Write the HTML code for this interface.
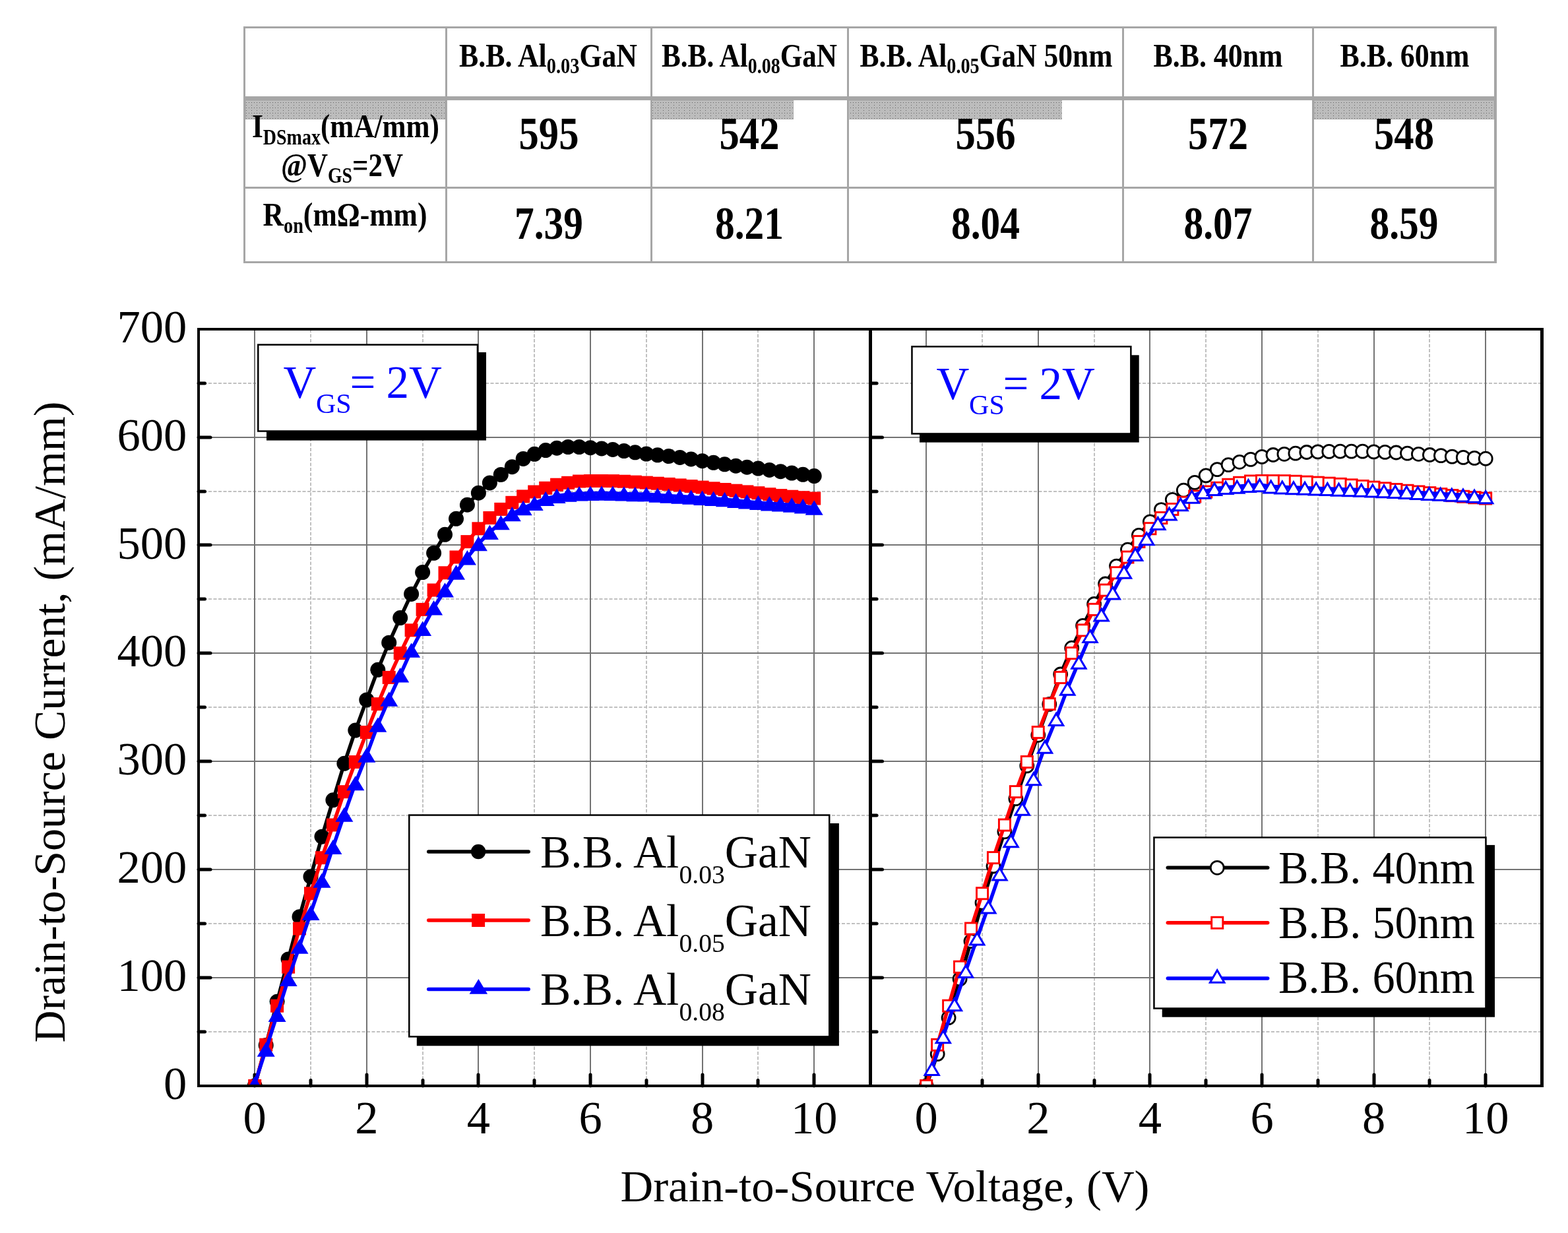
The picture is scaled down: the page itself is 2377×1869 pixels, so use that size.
<!DOCTYPE html>
<html><head><meta charset="utf-8"><title>IDS-VDS characteristics</title>
<style>html,body{margin:0;padding:0;background:#fff;}svg{display:block;}</style>
</head><body>
<svg width="2377" height="1869" viewBox="0 0 2377 1869">
<defs>
<pattern id="dots" x="0" y="0" width="8" height="8" patternUnits="userSpaceOnUse">
<rect width="8" height="8" fill="#a6a6a6"/>
<rect x="1" y="1" width="1" height="1" fill="#fff"/><rect x="3" y="1" width="1" height="1" fill="#fff"/><rect x="5" y="1" width="1" height="1" fill="#fff"/><rect x="7" y="1" width="1" height="1" fill="#fff"/><rect x="3" y="3" width="1" height="1" fill="#fff"/><rect x="7" y="3" width="1" height="1" fill="#fff"/><rect x="1" y="5" width="1" height="1" fill="#fff"/><rect x="3" y="5" width="1" height="1" fill="#fff"/><rect x="5" y="5" width="1" height="1" fill="#fff"/><rect x="7" y="5" width="1" height="1" fill="#fff"/><rect x="1" y="7" width="1" height="1" fill="#fff"/><rect x="3" y="7" width="1" height="1" fill="#fff"/><rect x="7" y="7" width="1" height="1" fill="#fff"/>
</pattern>
<clipPath id="clipL"><rect x="301" y="499" width="1018" height="1147"/></clipPath>
<clipPath id="clipR"><rect x="1319.5" y="499" width="1018" height="1147"/></clipPath>
</defs>
<rect width="2377" height="1869" fill="#fff"/>
<rect x="372" y="152" width="303" height="29" fill="url(#dots)"/>
<rect x="988" y="152" width="215" height="29" fill="url(#dots)"/>
<rect x="1287" y="152" width="323" height="29" fill="url(#dots)"/>
<rect x="1991" y="152" width="274" height="29" fill="url(#dots)"/>
<rect x="369" y="40" width="1900" height="3" fill="#a6a6a6"/>
<rect x="369" y="396" width="1900" height="3" fill="#a6a6a6"/>
<rect x="369" y="40" width="3" height="359" fill="#a6a6a6"/>
<rect x="2265" y="40" width="4" height="359" fill="#a6a6a6"/>
<rect x="369" y="146" width="1900" height="6" fill="#a6a6a6"/>
<rect x="369" y="283" width="1900" height="3" fill="#a6a6a6"/>
<rect x="675" y="40" width="3" height="359" fill="#a6a6a6"/>
<rect x="986" y="40" width="3" height="359" fill="#a6a6a6"/>
<rect x="1284" y="40" width="3" height="359" fill="#a6a6a6"/>
<rect x="1701" y="40" width="3" height="359" fill="#a6a6a6"/>
<rect x="1989" y="40" width="3" height="359" fill="#a6a6a6"/>
<text x="831" y="100.5" text-anchor="middle" font-size="51" font-family="Liberation Serif, serif" font-weight="bold" textLength="270" lengthAdjust="spacingAndGlyphs" >B.B. Al<tspan font-size="33" dy="10">0.03</tspan><tspan dy="-10">GaN</tspan></text>
<text x="1136" y="100.5" text-anchor="middle" font-size="51" font-family="Liberation Serif, serif" font-weight="bold" textLength="266" lengthAdjust="spacingAndGlyphs" >B.B. Al<tspan font-size="33" dy="10">0.08</tspan><tspan dy="-10">GaN</tspan></text>
<text x="1495" y="100.5" text-anchor="middle" font-size="51" font-family="Liberation Serif, serif" font-weight="bold" textLength="383" lengthAdjust="spacingAndGlyphs" >B.B. Al<tspan font-size="33" dy="10">0.05</tspan><tspan dy="-10">GaN 50nm</tspan></text>
<text x="1846.5" y="100.5" text-anchor="middle" font-size="51" font-family="Liberation Serif, serif" font-weight="bold" textLength="196" lengthAdjust="spacingAndGlyphs" >B.B. 40nm</text>
<text x="2129.5" y="100.5" text-anchor="middle" font-size="51" font-family="Liberation Serif, serif" font-weight="bold" textLength="196" lengthAdjust="spacingAndGlyphs" >B.B. 60nm</text>
<text x="524" y="207.5" text-anchor="middle" font-size="51" font-family="Liberation Serif, serif" font-weight="bold" textLength="284" lengthAdjust="spacingAndGlyphs" >I<tspan font-size="33" dy="11">DSmax</tspan><tspan dy="-11">(mA/mm)</tspan></text>
<text x="518.5" y="266.5" text-anchor="middle" font-size="51" font-family="Liberation Serif, serif" font-weight="bold" textLength="185" lengthAdjust="spacingAndGlyphs" >@V<tspan font-size="33" dy="10">GS</tspan><tspan dy="-10">=2V</tspan></text>
<text x="523" y="341.5" text-anchor="middle" font-size="51" font-family="Liberation Serif, serif" font-weight="bold" textLength="249" lengthAdjust="spacingAndGlyphs" >R<tspan font-size="33" dy="11">on</tspan><tspan dy="-11">(m&#937;-mm)</tspan></text>
<text x="832" y="226" text-anchor="middle" font-size="70" font-family="Liberation Serif, serif" font-weight="bold" textLength="91" lengthAdjust="spacingAndGlyphs" >595</text>
<text x="832" y="362" text-anchor="middle" font-size="70" font-family="Liberation Serif, serif" font-weight="bold" textLength="104" lengthAdjust="spacingAndGlyphs" >7.39</text>
<text x="1136" y="226" text-anchor="middle" font-size="70" font-family="Liberation Serif, serif" font-weight="bold" textLength="91" lengthAdjust="spacingAndGlyphs" >542</text>
<text x="1136" y="362" text-anchor="middle" font-size="70" font-family="Liberation Serif, serif" font-weight="bold" textLength="104" lengthAdjust="spacingAndGlyphs" >8.21</text>
<text x="1494" y="226" text-anchor="middle" font-size="70" font-family="Liberation Serif, serif" font-weight="bold" textLength="91" lengthAdjust="spacingAndGlyphs" >556</text>
<text x="1494" y="362" text-anchor="middle" font-size="70" font-family="Liberation Serif, serif" font-weight="bold" textLength="104" lengthAdjust="spacingAndGlyphs" >8.04</text>
<text x="1846.5" y="226" text-anchor="middle" font-size="70" font-family="Liberation Serif, serif" font-weight="bold" textLength="91" lengthAdjust="spacingAndGlyphs" >572</text>
<text x="1846.5" y="362" text-anchor="middle" font-size="70" font-family="Liberation Serif, serif" font-weight="bold" textLength="104" lengthAdjust="spacingAndGlyphs" >8.07</text>
<text x="2128.5" y="226" text-anchor="middle" font-size="70" font-family="Liberation Serif, serif" font-weight="bold" textLength="91" lengthAdjust="spacingAndGlyphs" >548</text>
<text x="2128.5" y="362" text-anchor="middle" font-size="70" font-family="Liberation Serif, serif" font-weight="bold" textLength="104" lengthAdjust="spacingAndGlyphs" >8.59</text>
<line x1="471.00" y1="499.00" x2="471.00" y2="1646.00" stroke="#c0c0c0" stroke-width="2" stroke-dasharray="5,2.5"/>
<line x1="641.00" y1="499.00" x2="641.00" y2="1646.00" stroke="#c0c0c0" stroke-width="2" stroke-dasharray="5,2.5"/>
<line x1="810.00" y1="499.00" x2="810.00" y2="1646.00" stroke="#c0c0c0" stroke-width="2" stroke-dasharray="5,2.5"/>
<line x1="980.00" y1="499.00" x2="980.00" y2="1646.00" stroke="#c0c0c0" stroke-width="2" stroke-dasharray="5,2.5"/>
<line x1="1149.00" y1="499.00" x2="1149.00" y2="1646.00" stroke="#c0c0c0" stroke-width="2" stroke-dasharray="5,2.5"/>
<line x1="301.00" y1="1564.00" x2="1319.50" y2="1564.00" stroke="#c0c0c0" stroke-width="2" stroke-dasharray="5,2.5"/>
<line x1="301.00" y1="1400.00" x2="1319.50" y2="1400.00" stroke="#c0c0c0" stroke-width="2" stroke-dasharray="5,2.5"/>
<line x1="301.00" y1="1236.00" x2="1319.50" y2="1236.00" stroke="#c0c0c0" stroke-width="2" stroke-dasharray="5,2.5"/>
<line x1="301.00" y1="1072.00" x2="1319.50" y2="1072.00" stroke="#c0c0c0" stroke-width="2" stroke-dasharray="5,2.5"/>
<line x1="301.00" y1="908.00" x2="1319.50" y2="908.00" stroke="#c0c0c0" stroke-width="2" stroke-dasharray="5,2.5"/>
<line x1="301.00" y1="745.00" x2="1319.50" y2="745.00" stroke="#c0c0c0" stroke-width="2" stroke-dasharray="5,2.5"/>
<line x1="301.00" y1="581.00" x2="1319.50" y2="581.00" stroke="#c0c0c0" stroke-width="2" stroke-dasharray="5,2.5"/>
<line x1="386.00" y1="499.00" x2="386.00" y2="1646.00" stroke="#737373" stroke-width="2" />
<line x1="556.00" y1="499.00" x2="556.00" y2="1646.00" stroke="#737373" stroke-width="2" />
<line x1="725.00" y1="499.00" x2="725.00" y2="1646.00" stroke="#737373" stroke-width="2" />
<line x1="895.00" y1="499.00" x2="895.00" y2="1646.00" stroke="#737373" stroke-width="2" />
<line x1="1065.00" y1="499.00" x2="1065.00" y2="1646.00" stroke="#737373" stroke-width="2" />
<line x1="1234.00" y1="499.00" x2="1234.00" y2="1646.00" stroke="#737373" stroke-width="2" />
<line x1="301.00" y1="1482.00" x2="1319.50" y2="1482.00" stroke="#737373" stroke-width="2" />
<line x1="301.00" y1="1318.00" x2="1319.50" y2="1318.00" stroke="#737373" stroke-width="2" />
<line x1="301.00" y1="1154.00" x2="1319.50" y2="1154.00" stroke="#737373" stroke-width="2" />
<line x1="301.00" y1="990.00" x2="1319.50" y2="990.00" stroke="#737373" stroke-width="2" />
<line x1="301.00" y1="826.00" x2="1319.50" y2="826.00" stroke="#737373" stroke-width="2" />
<line x1="301.00" y1="663.00" x2="1319.50" y2="663.00" stroke="#737373" stroke-width="2" />
<line x1="1489.00" y1="499.00" x2="1489.00" y2="1646.00" stroke="#c0c0c0" stroke-width="2" stroke-dasharray="5,2.5"/>
<line x1="1659.00" y1="499.00" x2="1659.00" y2="1646.00" stroke="#c0c0c0" stroke-width="2" stroke-dasharray="5,2.5"/>
<line x1="1828.00" y1="499.00" x2="1828.00" y2="1646.00" stroke="#c0c0c0" stroke-width="2" stroke-dasharray="5,2.5"/>
<line x1="1998.00" y1="499.00" x2="1998.00" y2="1646.00" stroke="#c0c0c0" stroke-width="2" stroke-dasharray="5,2.5"/>
<line x1="2167.00" y1="499.00" x2="2167.00" y2="1646.00" stroke="#c0c0c0" stroke-width="2" stroke-dasharray="5,2.5"/>
<line x1="1319.50" y1="1564.00" x2="2337.50" y2="1564.00" stroke="#c0c0c0" stroke-width="2" stroke-dasharray="5,2.5"/>
<line x1="1319.50" y1="1400.00" x2="2337.50" y2="1400.00" stroke="#c0c0c0" stroke-width="2" stroke-dasharray="5,2.5"/>
<line x1="1319.50" y1="1236.00" x2="2337.50" y2="1236.00" stroke="#c0c0c0" stroke-width="2" stroke-dasharray="5,2.5"/>
<line x1="1319.50" y1="1072.00" x2="2337.50" y2="1072.00" stroke="#c0c0c0" stroke-width="2" stroke-dasharray="5,2.5"/>
<line x1="1319.50" y1="908.00" x2="2337.50" y2="908.00" stroke="#c0c0c0" stroke-width="2" stroke-dasharray="5,2.5"/>
<line x1="1319.50" y1="745.00" x2="2337.50" y2="745.00" stroke="#c0c0c0" stroke-width="2" stroke-dasharray="5,2.5"/>
<line x1="1319.50" y1="581.00" x2="2337.50" y2="581.00" stroke="#c0c0c0" stroke-width="2" stroke-dasharray="5,2.5"/>
<line x1="1404.00" y1="499.00" x2="1404.00" y2="1646.00" stroke="#737373" stroke-width="2" />
<line x1="1574.00" y1="499.00" x2="1574.00" y2="1646.00" stroke="#737373" stroke-width="2" />
<line x1="1743.00" y1="499.00" x2="1743.00" y2="1646.00" stroke="#737373" stroke-width="2" />
<line x1="1913.00" y1="499.00" x2="1913.00" y2="1646.00" stroke="#737373" stroke-width="2" />
<line x1="2083.00" y1="499.00" x2="2083.00" y2="1646.00" stroke="#737373" stroke-width="2" />
<line x1="2252.00" y1="499.00" x2="2252.00" y2="1646.00" stroke="#737373" stroke-width="2" />
<line x1="1319.50" y1="1482.00" x2="2337.50" y2="1482.00" stroke="#737373" stroke-width="2" />
<line x1="1319.50" y1="1318.00" x2="2337.50" y2="1318.00" stroke="#737373" stroke-width="2" />
<line x1="1319.50" y1="1154.00" x2="2337.50" y2="1154.00" stroke="#737373" stroke-width="2" />
<line x1="1319.50" y1="990.00" x2="2337.50" y2="990.00" stroke="#737373" stroke-width="2" />
<line x1="1319.50" y1="826.00" x2="2337.50" y2="826.00" stroke="#737373" stroke-width="2" />
<line x1="1319.50" y1="663.00" x2="2337.50" y2="663.00" stroke="#737373" stroke-width="2" />
<line x1="386.00" y1="1646.00" x2="386.00" y2="1629.00" stroke="#000" stroke-width="5" stroke-linecap="round"/>
<line x1="471.00" y1="1646.00" x2="471.00" y2="1637.50" stroke="#000" stroke-width="5" stroke-linecap="round"/>
<line x1="556.00" y1="1646.00" x2="556.00" y2="1629.00" stroke="#000" stroke-width="5" stroke-linecap="round"/>
<line x1="641.00" y1="1646.00" x2="641.00" y2="1637.50" stroke="#000" stroke-width="5" stroke-linecap="round"/>
<line x1="725.00" y1="1646.00" x2="725.00" y2="1629.00" stroke="#000" stroke-width="5" stroke-linecap="round"/>
<line x1="810.00" y1="1646.00" x2="810.00" y2="1637.50" stroke="#000" stroke-width="5" stroke-linecap="round"/>
<line x1="895.00" y1="1646.00" x2="895.00" y2="1629.00" stroke="#000" stroke-width="5" stroke-linecap="round"/>
<line x1="980.00" y1="1646.00" x2="980.00" y2="1637.50" stroke="#000" stroke-width="5" stroke-linecap="round"/>
<line x1="1065.00" y1="1646.00" x2="1065.00" y2="1629.00" stroke="#000" stroke-width="5" stroke-linecap="round"/>
<line x1="1149.00" y1="1646.00" x2="1149.00" y2="1637.50" stroke="#000" stroke-width="5" stroke-linecap="round"/>
<line x1="1234.00" y1="1646.00" x2="1234.00" y2="1629.00" stroke="#000" stroke-width="5" stroke-linecap="round"/>
<line x1="301.00" y1="1564.00" x2="310.50" y2="1564.00" stroke="#000" stroke-width="5" stroke-linecap="round"/>
<line x1="301.00" y1="1482.00" x2="319.00" y2="1482.00" stroke="#000" stroke-width="5" stroke-linecap="round"/>
<line x1="301.00" y1="1400.00" x2="310.50" y2="1400.00" stroke="#000" stroke-width="5" stroke-linecap="round"/>
<line x1="301.00" y1="1318.00" x2="319.00" y2="1318.00" stroke="#000" stroke-width="5" stroke-linecap="round"/>
<line x1="301.00" y1="1236.00" x2="310.50" y2="1236.00" stroke="#000" stroke-width="5" stroke-linecap="round"/>
<line x1="301.00" y1="1154.00" x2="319.00" y2="1154.00" stroke="#000" stroke-width="5" stroke-linecap="round"/>
<line x1="301.00" y1="1072.00" x2="310.50" y2="1072.00" stroke="#000" stroke-width="5" stroke-linecap="round"/>
<line x1="301.00" y1="990.00" x2="319.00" y2="990.00" stroke="#000" stroke-width="5" stroke-linecap="round"/>
<line x1="301.00" y1="908.00" x2="310.50" y2="908.00" stroke="#000" stroke-width="5" stroke-linecap="round"/>
<line x1="301.00" y1="826.00" x2="319.00" y2="826.00" stroke="#000" stroke-width="5" stroke-linecap="round"/>
<line x1="301.00" y1="745.00" x2="310.50" y2="745.00" stroke="#000" stroke-width="5" stroke-linecap="round"/>
<line x1="301.00" y1="663.00" x2="319.00" y2="663.00" stroke="#000" stroke-width="5" stroke-linecap="round"/>
<line x1="301.00" y1="581.00" x2="310.50" y2="581.00" stroke="#000" stroke-width="5" stroke-linecap="round"/>
<line x1="1404.00" y1="1646.00" x2="1404.00" y2="1629.00" stroke="#000" stroke-width="5" stroke-linecap="round"/>
<line x1="1489.00" y1="1646.00" x2="1489.00" y2="1637.50" stroke="#000" stroke-width="5" stroke-linecap="round"/>
<line x1="1574.00" y1="1646.00" x2="1574.00" y2="1629.00" stroke="#000" stroke-width="5" stroke-linecap="round"/>
<line x1="1659.00" y1="1646.00" x2="1659.00" y2="1637.50" stroke="#000" stroke-width="5" stroke-linecap="round"/>
<line x1="1743.00" y1="1646.00" x2="1743.00" y2="1629.00" stroke="#000" stroke-width="5" stroke-linecap="round"/>
<line x1="1828.00" y1="1646.00" x2="1828.00" y2="1637.50" stroke="#000" stroke-width="5" stroke-linecap="round"/>
<line x1="1913.00" y1="1646.00" x2="1913.00" y2="1629.00" stroke="#000" stroke-width="5" stroke-linecap="round"/>
<line x1="1998.00" y1="1646.00" x2="1998.00" y2="1637.50" stroke="#000" stroke-width="5" stroke-linecap="round"/>
<line x1="2083.00" y1="1646.00" x2="2083.00" y2="1629.00" stroke="#000" stroke-width="5" stroke-linecap="round"/>
<line x1="2167.00" y1="1646.00" x2="2167.00" y2="1637.50" stroke="#000" stroke-width="5" stroke-linecap="round"/>
<line x1="2252.00" y1="1646.00" x2="2252.00" y2="1629.00" stroke="#000" stroke-width="5" stroke-linecap="round"/>
<line x1="1319.50" y1="1564.00" x2="1329.00" y2="1564.00" stroke="#000" stroke-width="5" stroke-linecap="round"/>
<line x1="1319.50" y1="1482.00" x2="1337.50" y2="1482.00" stroke="#000" stroke-width="5" stroke-linecap="round"/>
<line x1="1319.50" y1="1400.00" x2="1329.00" y2="1400.00" stroke="#000" stroke-width="5" stroke-linecap="round"/>
<line x1="1319.50" y1="1318.00" x2="1337.50" y2="1318.00" stroke="#000" stroke-width="5" stroke-linecap="round"/>
<line x1="1319.50" y1="1236.00" x2="1329.00" y2="1236.00" stroke="#000" stroke-width="5" stroke-linecap="round"/>
<line x1="1319.50" y1="1154.00" x2="1337.50" y2="1154.00" stroke="#000" stroke-width="5" stroke-linecap="round"/>
<line x1="1319.50" y1="1072.00" x2="1329.00" y2="1072.00" stroke="#000" stroke-width="5" stroke-linecap="round"/>
<line x1="1319.50" y1="990.00" x2="1337.50" y2="990.00" stroke="#000" stroke-width="5" stroke-linecap="round"/>
<line x1="1319.50" y1="908.00" x2="1329.00" y2="908.00" stroke="#000" stroke-width="5" stroke-linecap="round"/>
<line x1="1319.50" y1="826.00" x2="1337.50" y2="826.00" stroke="#000" stroke-width="5" stroke-linecap="round"/>
<line x1="1319.50" y1="745.00" x2="1329.00" y2="745.00" stroke="#000" stroke-width="5" stroke-linecap="round"/>
<line x1="1319.50" y1="663.00" x2="1337.50" y2="663.00" stroke="#000" stroke-width="5" stroke-linecap="round"/>
<line x1="1319.50" y1="581.00" x2="1329.00" y2="581.00" stroke="#000" stroke-width="5" stroke-linecap="round"/>
<g clip-path="url(#clipL)">
<polyline points="386.2,1646.0 403.2,1584.4 420.1,1518.3 437.1,1453.9 454.0,1389.7 471.0,1328.9 488.0,1268.2 504.9,1212.8 521.9,1157.3 538.8,1107.1 555.8,1060.9 572.8,1015.3 589.7,974.2 606.7,936.6 623.6,900.4 640.6,867.5 657.6,838.3 674.5,810.3 691.5,786.3 708.4,765.2 725.4,747.2 742.4,731.9 759.3,719.5 776.3,707.7 793.2,695.4 810.2,688.3 827.2,682.6 844.1,679.2 861.1,677.5 878.0,677.5 895.0,678.7 912.0,679.9 928.9,681.4 945.9,683.5 962.8,685.8 979.8,688.0 996.8,689.8 1013.7,691.5 1030.7,693.4 1047.6,695.9 1064.6,698.7 1081.6,701.3 1098.5,703.8 1115.5,706.2 1132.4,708.2 1149.4,710.1 1166.4,712.4 1183.3,714.7 1200.3,717.0 1217.2,719.3 1234.2,721.6" fill="none" stroke="#000" stroke-width="5.5" stroke-linejoin="round"/>
<circle cx="386.2" cy="1646.0" r="11.5" fill="#000"/>
<circle cx="403.2" cy="1584.4" r="11.5" fill="#000"/>
<circle cx="420.1" cy="1518.3" r="11.5" fill="#000"/>
<circle cx="437.1" cy="1453.9" r="11.5" fill="#000"/>
<circle cx="454.0" cy="1389.7" r="11.5" fill="#000"/>
<circle cx="471.0" cy="1328.9" r="11.5" fill="#000"/>
<circle cx="488.0" cy="1268.2" r="11.5" fill="#000"/>
<circle cx="504.9" cy="1212.8" r="11.5" fill="#000"/>
<circle cx="521.9" cy="1157.3" r="11.5" fill="#000"/>
<circle cx="538.8" cy="1107.1" r="11.5" fill="#000"/>
<circle cx="555.8" cy="1060.9" r="11.5" fill="#000"/>
<circle cx="572.8" cy="1015.3" r="11.5" fill="#000"/>
<circle cx="589.7" cy="974.2" r="11.5" fill="#000"/>
<circle cx="606.7" cy="936.6" r="11.5" fill="#000"/>
<circle cx="623.6" cy="900.4" r="11.5" fill="#000"/>
<circle cx="640.6" cy="867.5" r="11.5" fill="#000"/>
<circle cx="657.6" cy="838.3" r="11.5" fill="#000"/>
<circle cx="674.5" cy="810.3" r="11.5" fill="#000"/>
<circle cx="691.5" cy="786.3" r="11.5" fill="#000"/>
<circle cx="708.4" cy="765.2" r="11.5" fill="#000"/>
<circle cx="725.4" cy="747.2" r="11.5" fill="#000"/>
<circle cx="742.4" cy="731.9" r="11.5" fill="#000"/>
<circle cx="759.3" cy="719.5" r="11.5" fill="#000"/>
<circle cx="776.3" cy="707.7" r="11.5" fill="#000"/>
<circle cx="793.2" cy="695.4" r="11.5" fill="#000"/>
<circle cx="810.2" cy="688.3" r="11.5" fill="#000"/>
<circle cx="827.2" cy="682.6" r="11.5" fill="#000"/>
<circle cx="844.1" cy="679.2" r="11.5" fill="#000"/>
<circle cx="861.1" cy="677.5" r="11.5" fill="#000"/>
<circle cx="878.0" cy="677.5" r="11.5" fill="#000"/>
<circle cx="895.0" cy="678.7" r="11.5" fill="#000"/>
<circle cx="912.0" cy="679.9" r="11.5" fill="#000"/>
<circle cx="928.9" cy="681.4" r="11.5" fill="#000"/>
<circle cx="945.9" cy="683.5" r="11.5" fill="#000"/>
<circle cx="962.8" cy="685.8" r="11.5" fill="#000"/>
<circle cx="979.8" cy="688.0" r="11.5" fill="#000"/>
<circle cx="996.8" cy="689.8" r="11.5" fill="#000"/>
<circle cx="1013.7" cy="691.5" r="11.5" fill="#000"/>
<circle cx="1030.7" cy="693.4" r="11.5" fill="#000"/>
<circle cx="1047.6" cy="695.9" r="11.5" fill="#000"/>
<circle cx="1064.6" cy="698.7" r="11.5" fill="#000"/>
<circle cx="1081.6" cy="701.3" r="11.5" fill="#000"/>
<circle cx="1098.5" cy="703.8" r="11.5" fill="#000"/>
<circle cx="1115.5" cy="706.2" r="11.5" fill="#000"/>
<circle cx="1132.4" cy="708.2" r="11.5" fill="#000"/>
<circle cx="1149.4" cy="710.1" r="11.5" fill="#000"/>
<circle cx="1166.4" cy="712.4" r="11.5" fill="#000"/>
<circle cx="1183.3" cy="714.7" r="11.5" fill="#000"/>
<circle cx="1200.3" cy="717.0" r="11.5" fill="#000"/>
<circle cx="1217.2" cy="719.3" r="11.5" fill="#000"/>
<circle cx="1234.2" cy="721.6" r="11.5" fill="#000"/>
<polyline points="386.2,1646.0 403.2,1583.7 420.1,1524.7 437.1,1465.7 454.0,1407.5 471.0,1354.3 488.0,1300.2 504.9,1250.5 521.9,1200.2 538.8,1155.0 555.8,1110.0 572.8,1067.1 589.7,1026.9 606.7,990.1 623.6,955.3 640.6,923.9 657.6,894.5 674.5,868.3 691.5,844.5 708.4,821.1 725.4,801.3 742.4,785.0 759.3,771.9 776.3,761.8 793.2,752.4 810.2,745.5 827.2,739.8 844.1,734.7 861.1,731.8 878.0,729.5 895.0,729.0 912.0,729.0 928.9,729.1 945.9,729.7 962.8,730.6 979.8,731.6 996.8,732.7 1013.7,733.9 1030.7,735.4 1047.6,737.0 1064.6,738.6 1081.6,740.3 1098.5,742.0 1115.5,743.7 1132.4,745.4 1149.4,747.2 1166.4,749.2 1183.3,751.1 1200.3,752.7 1217.2,754.2 1234.2,755.5" fill="none" stroke="#f00" stroke-width="5.5" stroke-linejoin="round"/>
<rect x="376.2" y="1636.0" width="20" height="20" fill="#f00"/>
<rect x="393.2" y="1573.7" width="20" height="20" fill="#f00"/>
<rect x="410.1" y="1514.7" width="20" height="20" fill="#f00"/>
<rect x="427.1" y="1455.7" width="20" height="20" fill="#f00"/>
<rect x="444.0" y="1397.5" width="20" height="20" fill="#f00"/>
<rect x="461.0" y="1344.3" width="20" height="20" fill="#f00"/>
<rect x="478.0" y="1290.2" width="20" height="20" fill="#f00"/>
<rect x="494.9" y="1240.5" width="20" height="20" fill="#f00"/>
<rect x="511.9" y="1190.2" width="20" height="20" fill="#f00"/>
<rect x="528.8" y="1145.0" width="20" height="20" fill="#f00"/>
<rect x="545.8" y="1100.0" width="20" height="20" fill="#f00"/>
<rect x="562.8" y="1057.1" width="20" height="20" fill="#f00"/>
<rect x="579.7" y="1016.9" width="20" height="20" fill="#f00"/>
<rect x="596.7" y="980.1" width="20" height="20" fill="#f00"/>
<rect x="613.6" y="945.3" width="20" height="20" fill="#f00"/>
<rect x="630.6" y="913.9" width="20" height="20" fill="#f00"/>
<rect x="647.6" y="884.5" width="20" height="20" fill="#f00"/>
<rect x="664.5" y="858.3" width="20" height="20" fill="#f00"/>
<rect x="681.5" y="834.5" width="20" height="20" fill="#f00"/>
<rect x="698.4" y="811.1" width="20" height="20" fill="#f00"/>
<rect x="715.4" y="791.3" width="20" height="20" fill="#f00"/>
<rect x="732.4" y="775.0" width="20" height="20" fill="#f00"/>
<rect x="749.3" y="761.9" width="20" height="20" fill="#f00"/>
<rect x="766.3" y="751.8" width="20" height="20" fill="#f00"/>
<rect x="783.2" y="742.4" width="20" height="20" fill="#f00"/>
<rect x="800.2" y="735.5" width="20" height="20" fill="#f00"/>
<rect x="817.2" y="729.8" width="20" height="20" fill="#f00"/>
<rect x="834.1" y="724.7" width="20" height="20" fill="#f00"/>
<rect x="851.1" y="721.8" width="20" height="20" fill="#f00"/>
<rect x="868.0" y="719.5" width="20" height="20" fill="#f00"/>
<rect x="885.0" y="719.0" width="20" height="20" fill="#f00"/>
<rect x="902.0" y="719.0" width="20" height="20" fill="#f00"/>
<rect x="918.9" y="719.1" width="20" height="20" fill="#f00"/>
<rect x="935.9" y="719.7" width="20" height="20" fill="#f00"/>
<rect x="952.8" y="720.6" width="20" height="20" fill="#f00"/>
<rect x="969.8" y="721.6" width="20" height="20" fill="#f00"/>
<rect x="986.8" y="722.7" width="20" height="20" fill="#f00"/>
<rect x="1003.7" y="723.9" width="20" height="20" fill="#f00"/>
<rect x="1020.7" y="725.4" width="20" height="20" fill="#f00"/>
<rect x="1037.6" y="727.0" width="20" height="20" fill="#f00"/>
<rect x="1054.6" y="728.6" width="20" height="20" fill="#f00"/>
<rect x="1071.6" y="730.3" width="20" height="20" fill="#f00"/>
<rect x="1088.5" y="732.0" width="20" height="20" fill="#f00"/>
<rect x="1105.5" y="733.7" width="20" height="20" fill="#f00"/>
<rect x="1122.4" y="735.4" width="20" height="20" fill="#f00"/>
<rect x="1139.4" y="737.2" width="20" height="20" fill="#f00"/>
<rect x="1156.4" y="739.2" width="20" height="20" fill="#f00"/>
<rect x="1173.3" y="741.1" width="20" height="20" fill="#f00"/>
<rect x="1190.3" y="742.7" width="20" height="20" fill="#f00"/>
<rect x="1207.2" y="744.2" width="20" height="20" fill="#f00"/>
<rect x="1224.2" y="745.5" width="20" height="20" fill="#f00"/>
<polyline points="386.2,1642.7 403.2,1590.6 420.1,1537.8 437.1,1483.7 454.0,1434.6 471.0,1383.8 488.0,1334.6 504.9,1283.8 521.9,1234.6 538.8,1187.1 555.8,1144.5 572.8,1098.6 589.7,1059.6 606.7,1023.2 623.6,985.6 640.6,952.9 657.6,921.2 674.5,894.4 691.5,867.5 708.4,845.2 725.4,824.0 742.4,806.7 759.3,792.1 776.3,779.1 793.2,770.0 810.2,762.9 827.2,755.9 844.1,751.8 861.1,749.5 878.0,748.3 895.0,747.8 912.0,747.5 928.9,747.8 945.9,748.4 962.8,749.0 979.8,749.1 996.8,750.6 1013.7,751.6 1030.7,752.6 1047.6,753.6 1064.6,754.7 1081.6,755.8 1098.5,757.0 1115.5,758.7 1132.4,760.4 1149.4,761.9 1166.4,763.2 1183.3,764.3 1200.3,765.5 1217.2,767.3 1234.2,769.6" fill="none" stroke="#00f" stroke-width="5.5" stroke-linejoin="round"/>
<polygon points="386.2,1631.5 399.7,1653.9 372.7,1653.9" fill="#00f"/>
<polygon points="403.2,1579.4 416.7,1601.8 389.7,1601.8" fill="#00f"/>
<polygon points="420.1,1526.6 433.6,1549.0 406.6,1549.0" fill="#00f"/>
<polygon points="437.1,1472.5 450.6,1494.9 423.6,1494.9" fill="#00f"/>
<polygon points="454.0,1423.4 467.5,1445.8 440.5,1445.8" fill="#00f"/>
<polygon points="471.0,1372.6 484.5,1395.0 457.5,1395.0" fill="#00f"/>
<polygon points="488.0,1323.4 501.5,1345.8 474.5,1345.8" fill="#00f"/>
<polygon points="504.9,1272.6 518.4,1295.0 491.4,1295.0" fill="#00f"/>
<polygon points="521.9,1223.4 535.4,1245.8 508.4,1245.8" fill="#00f"/>
<polygon points="538.8,1175.9 552.3,1198.3 525.3,1198.3" fill="#00f"/>
<polygon points="555.8,1133.3 569.3,1155.7 542.3,1155.7" fill="#00f"/>
<polygon points="572.8,1087.4 586.3,1109.8 559.3,1109.8" fill="#00f"/>
<polygon points="589.7,1048.4 603.2,1070.8 576.2,1070.8" fill="#00f"/>
<polygon points="606.7,1012.0 620.2,1034.4 593.2,1034.4" fill="#00f"/>
<polygon points="623.6,974.4 637.1,996.8 610.1,996.8" fill="#00f"/>
<polygon points="640.6,941.7 654.1,964.1 627.1,964.1" fill="#00f"/>
<polygon points="657.6,910.0 671.1,932.4 644.1,932.4" fill="#00f"/>
<polygon points="674.5,883.2 688.0,905.6 661.0,905.6" fill="#00f"/>
<polygon points="691.5,856.3 705.0,878.7 678.0,878.7" fill="#00f"/>
<polygon points="708.4,834.0 721.9,856.4 694.9,856.4" fill="#00f"/>
<polygon points="725.4,812.8 738.9,835.2 711.9,835.2" fill="#00f"/>
<polygon points="742.4,795.5 755.9,817.9 728.9,817.9" fill="#00f"/>
<polygon points="759.3,780.9 772.8,803.3 745.8,803.3" fill="#00f"/>
<polygon points="776.3,767.9 789.8,790.3 762.8,790.3" fill="#00f"/>
<polygon points="793.2,758.8 806.7,781.2 779.7,781.2" fill="#00f"/>
<polygon points="810.2,751.7 823.7,774.1 796.7,774.1" fill="#00f"/>
<polygon points="827.2,744.7 840.7,767.1 813.7,767.1" fill="#00f"/>
<polygon points="844.1,740.6 857.6,763.0 830.6,763.0" fill="#00f"/>
<polygon points="861.1,738.3 874.6,760.7 847.6,760.7" fill="#00f"/>
<polygon points="878.0,737.1 891.5,759.5 864.5,759.5" fill="#00f"/>
<polygon points="895.0,736.6 908.5,759.0 881.5,759.0" fill="#00f"/>
<polygon points="912.0,736.3 925.5,758.7 898.5,758.7" fill="#00f"/>
<polygon points="928.9,736.6 942.4,759.0 915.4,759.0" fill="#00f"/>
<polygon points="945.9,737.2 959.4,759.6 932.4,759.6" fill="#00f"/>
<polygon points="962.8,737.8 976.3,760.2 949.3,760.2" fill="#00f"/>
<polygon points="979.8,737.9 993.3,760.3 966.3,760.3" fill="#00f"/>
<polygon points="996.8,739.4 1010.3,761.8 983.3,761.8" fill="#00f"/>
<polygon points="1013.7,740.4 1027.2,762.8 1000.2,762.8" fill="#00f"/>
<polygon points="1030.7,741.4 1044.2,763.8 1017.2,763.8" fill="#00f"/>
<polygon points="1047.6,742.4 1061.1,764.8 1034.1,764.8" fill="#00f"/>
<polygon points="1064.6,743.5 1078.1,765.9 1051.1,765.9" fill="#00f"/>
<polygon points="1081.6,744.6 1095.1,767.0 1068.1,767.0" fill="#00f"/>
<polygon points="1098.5,745.8 1112.0,768.2 1085.0,768.2" fill="#00f"/>
<polygon points="1115.5,747.5 1129.0,769.9 1102.0,769.9" fill="#00f"/>
<polygon points="1132.4,749.2 1145.9,771.6 1118.9,771.6" fill="#00f"/>
<polygon points="1149.4,750.7 1162.9,773.1 1135.9,773.1" fill="#00f"/>
<polygon points="1166.4,752.0 1179.9,774.4 1152.9,774.4" fill="#00f"/>
<polygon points="1183.3,753.1 1196.8,775.5 1169.8,775.5" fill="#00f"/>
<polygon points="1200.3,754.3 1213.8,776.7 1186.8,776.7" fill="#00f"/>
<polygon points="1217.2,756.1 1230.7,778.5 1203.7,778.5" fill="#00f"/>
<polygon points="1234.2,758.4 1247.7,780.8 1220.7,780.8" fill="#00f"/>
</g>
<g clip-path="url(#clipR)">
<polyline points="1404.2,1646.0 1421.2,1597.6 1438.1,1542.7 1455.1,1483.9 1472.0,1426.7 1489.0,1368.2 1506.0,1313.0 1522.9,1260.8 1539.9,1210.7 1556.8,1160.9 1573.8,1114.3 1590.8,1067.4 1607.7,1022.0 1624.7,982.2 1641.6,948.3 1658.6,915.5 1675.6,885.0 1692.5,858.1 1709.5,833.1 1726.4,811.3 1743.4,790.9 1760.4,772.6 1777.3,757.3 1794.3,743.2 1811.2,731.4 1828.2,720.9 1845.2,711.6 1862.1,704.6 1879.1,700.3 1896.0,696.4 1913.0,692.4 1930.0,689.5 1946.9,688.3 1963.9,687.2 1980.8,685.5 1997.8,684.9 2014.8,684.4 2031.7,684.2 2048.7,684.2 2065.6,684.2 2082.6,684.9 2099.6,685.4 2116.5,686.0 2133.5,687.1 2150.4,688.3 2167.4,689.5 2184.4,690.6 2201.3,692.1 2218.3,693.4 2235.2,694.4 2252.2,695.2" fill="none" stroke="#000" stroke-width="5.5" stroke-linejoin="round"/>
<circle cx="1404.2" cy="1646.0" r="10" fill="#fff" stroke="#000" stroke-width="2.8"/>
<circle cx="1421.2" cy="1597.6" r="10" fill="#fff" stroke="#000" stroke-width="2.8"/>
<circle cx="1438.1" cy="1542.7" r="10" fill="#fff" stroke="#000" stroke-width="2.8"/>
<circle cx="1455.1" cy="1483.9" r="10" fill="#fff" stroke="#000" stroke-width="2.8"/>
<circle cx="1472.0" cy="1426.7" r="10" fill="#fff" stroke="#000" stroke-width="2.8"/>
<circle cx="1489.0" cy="1368.2" r="10" fill="#fff" stroke="#000" stroke-width="2.8"/>
<circle cx="1506.0" cy="1313.0" r="10" fill="#fff" stroke="#000" stroke-width="2.8"/>
<circle cx="1522.9" cy="1260.8" r="10" fill="#fff" stroke="#000" stroke-width="2.8"/>
<circle cx="1539.9" cy="1210.7" r="10" fill="#fff" stroke="#000" stroke-width="2.8"/>
<circle cx="1556.8" cy="1160.9" r="10" fill="#fff" stroke="#000" stroke-width="2.8"/>
<circle cx="1573.8" cy="1114.3" r="10" fill="#fff" stroke="#000" stroke-width="2.8"/>
<circle cx="1590.8" cy="1067.4" r="10" fill="#fff" stroke="#000" stroke-width="2.8"/>
<circle cx="1607.7" cy="1022.0" r="10" fill="#fff" stroke="#000" stroke-width="2.8"/>
<circle cx="1624.7" cy="982.2" r="10" fill="#fff" stroke="#000" stroke-width="2.8"/>
<circle cx="1641.6" cy="948.3" r="10" fill="#fff" stroke="#000" stroke-width="2.8"/>
<circle cx="1658.6" cy="915.5" r="10" fill="#fff" stroke="#000" stroke-width="2.8"/>
<circle cx="1675.6" cy="885.0" r="10" fill="#fff" stroke="#000" stroke-width="2.8"/>
<circle cx="1692.5" cy="858.1" r="10" fill="#fff" stroke="#000" stroke-width="2.8"/>
<circle cx="1709.5" cy="833.1" r="10" fill="#fff" stroke="#000" stroke-width="2.8"/>
<circle cx="1726.4" cy="811.3" r="10" fill="#fff" stroke="#000" stroke-width="2.8"/>
<circle cx="1743.4" cy="790.9" r="10" fill="#fff" stroke="#000" stroke-width="2.8"/>
<circle cx="1760.4" cy="772.6" r="10" fill="#fff" stroke="#000" stroke-width="2.8"/>
<circle cx="1777.3" cy="757.3" r="10" fill="#fff" stroke="#000" stroke-width="2.8"/>
<circle cx="1794.3" cy="743.2" r="10" fill="#fff" stroke="#000" stroke-width="2.8"/>
<circle cx="1811.2" cy="731.4" r="10" fill="#fff" stroke="#000" stroke-width="2.8"/>
<circle cx="1828.2" cy="720.9" r="10" fill="#fff" stroke="#000" stroke-width="2.8"/>
<circle cx="1845.2" cy="711.6" r="10" fill="#fff" stroke="#000" stroke-width="2.8"/>
<circle cx="1862.1" cy="704.6" r="10" fill="#fff" stroke="#000" stroke-width="2.8"/>
<circle cx="1879.1" cy="700.3" r="10" fill="#fff" stroke="#000" stroke-width="2.8"/>
<circle cx="1896.0" cy="696.4" r="10" fill="#fff" stroke="#000" stroke-width="2.8"/>
<circle cx="1913.0" cy="692.4" r="10" fill="#fff" stroke="#000" stroke-width="2.8"/>
<circle cx="1930.0" cy="689.5" r="10" fill="#fff" stroke="#000" stroke-width="2.8"/>
<circle cx="1946.9" cy="688.3" r="10" fill="#fff" stroke="#000" stroke-width="2.8"/>
<circle cx="1963.9" cy="687.2" r="10" fill="#fff" stroke="#000" stroke-width="2.8"/>
<circle cx="1980.8" cy="685.5" r="10" fill="#fff" stroke="#000" stroke-width="2.8"/>
<circle cx="1997.8" cy="684.9" r="10" fill="#fff" stroke="#000" stroke-width="2.8"/>
<circle cx="2014.8" cy="684.4" r="10" fill="#fff" stroke="#000" stroke-width="2.8"/>
<circle cx="2031.7" cy="684.2" r="10" fill="#fff" stroke="#000" stroke-width="2.8"/>
<circle cx="2048.7" cy="684.2" r="10" fill="#fff" stroke="#000" stroke-width="2.8"/>
<circle cx="2065.6" cy="684.2" r="10" fill="#fff" stroke="#000" stroke-width="2.8"/>
<circle cx="2082.6" cy="684.9" r="10" fill="#fff" stroke="#000" stroke-width="2.8"/>
<circle cx="2099.6" cy="685.4" r="10" fill="#fff" stroke="#000" stroke-width="2.8"/>
<circle cx="2116.5" cy="686.0" r="10" fill="#fff" stroke="#000" stroke-width="2.8"/>
<circle cx="2133.5" cy="687.1" r="10" fill="#fff" stroke="#000" stroke-width="2.8"/>
<circle cx="2150.4" cy="688.3" r="10" fill="#fff" stroke="#000" stroke-width="2.8"/>
<circle cx="2167.4" cy="689.5" r="10" fill="#fff" stroke="#000" stroke-width="2.8"/>
<circle cx="2184.4" cy="690.6" r="10" fill="#fff" stroke="#000" stroke-width="2.8"/>
<circle cx="2201.3" cy="692.1" r="10" fill="#fff" stroke="#000" stroke-width="2.8"/>
<circle cx="2218.3" cy="693.4" r="10" fill="#fff" stroke="#000" stroke-width="2.8"/>
<circle cx="2235.2" cy="694.4" r="10" fill="#fff" stroke="#000" stroke-width="2.8"/>
<circle cx="2252.2" cy="695.2" r="10" fill="#fff" stroke="#000" stroke-width="2.8"/>
<polyline points="1404.2,1646.0 1421.2,1583.7 1438.1,1524.7 1455.1,1465.7 1472.0,1407.5 1489.0,1354.3 1506.0,1300.2 1522.9,1250.5 1539.9,1200.2 1556.8,1155.0 1573.8,1110.0 1590.8,1067.1 1607.7,1026.9 1624.7,990.1 1641.6,955.3 1658.6,923.9 1675.6,894.5 1692.5,868.3 1709.5,844.5 1726.4,821.1 1743.4,801.3 1760.4,785.0 1777.3,771.9 1794.3,761.8 1811.2,752.4 1828.2,745.5 1845.2,739.8 1862.1,734.7 1879.1,731.8 1896.0,729.5 1913.0,729.0 1930.0,729.0 1946.9,729.1 1963.9,729.7 1980.8,730.6 1997.8,731.6 2014.8,732.7 2031.7,733.9 2048.7,735.4 2065.6,737.0 2082.6,738.6 2099.6,740.3 2116.5,742.0 2133.5,743.7 2150.4,745.4 2167.4,747.2 2184.4,749.2 2201.3,751.1 2218.3,752.7 2235.2,754.2 2252.2,755.5" fill="none" stroke="#f00" stroke-width="5.5" stroke-linejoin="round"/>
<rect x="1395.7" y="1637.5" width="17.1" height="17.1" fill="#fff" stroke="#f00" stroke-width="2.9"/>
<rect x="1412.6" y="1575.2" width="17.1" height="17.1" fill="#fff" stroke="#f00" stroke-width="2.9"/>
<rect x="1429.6" y="1516.2" width="17.1" height="17.1" fill="#fff" stroke="#f00" stroke-width="2.9"/>
<rect x="1446.5" y="1457.2" width="17.1" height="17.1" fill="#fff" stroke="#f00" stroke-width="2.9"/>
<rect x="1463.5" y="1399.0" width="17.1" height="17.1" fill="#fff" stroke="#f00" stroke-width="2.9"/>
<rect x="1480.5" y="1345.7" width="17.1" height="17.1" fill="#fff" stroke="#f00" stroke-width="2.9"/>
<rect x="1497.4" y="1291.6" width="17.1" height="17.1" fill="#fff" stroke="#f00" stroke-width="2.9"/>
<rect x="1514.4" y="1242.0" width="17.1" height="17.1" fill="#fff" stroke="#f00" stroke-width="2.9"/>
<rect x="1531.3" y="1191.6" width="17.1" height="17.1" fill="#fff" stroke="#f00" stroke-width="2.9"/>
<rect x="1548.3" y="1146.4" width="17.1" height="17.1" fill="#fff" stroke="#f00" stroke-width="2.9"/>
<rect x="1565.2" y="1101.5" width="17.1" height="17.1" fill="#fff" stroke="#f00" stroke-width="2.9"/>
<rect x="1582.2" y="1058.6" width="17.1" height="17.1" fill="#fff" stroke="#f00" stroke-width="2.9"/>
<rect x="1599.2" y="1018.4" width="17.1" height="17.1" fill="#fff" stroke="#f00" stroke-width="2.9"/>
<rect x="1616.1" y="981.5" width="17.1" height="17.1" fill="#fff" stroke="#f00" stroke-width="2.9"/>
<rect x="1633.1" y="946.8" width="17.1" height="17.1" fill="#fff" stroke="#f00" stroke-width="2.9"/>
<rect x="1650.0" y="915.3" width="17.1" height="17.1" fill="#fff" stroke="#f00" stroke-width="2.9"/>
<rect x="1667.0" y="886.0" width="17.1" height="17.1" fill="#fff" stroke="#f00" stroke-width="2.9"/>
<rect x="1684.0" y="859.7" width="17.1" height="17.1" fill="#fff" stroke="#f00" stroke-width="2.9"/>
<rect x="1700.9" y="836.0" width="17.1" height="17.1" fill="#fff" stroke="#f00" stroke-width="2.9"/>
<rect x="1717.9" y="812.5" width="17.1" height="17.1" fill="#fff" stroke="#f00" stroke-width="2.9"/>
<rect x="1734.9" y="792.7" width="17.1" height="17.1" fill="#fff" stroke="#f00" stroke-width="2.9"/>
<rect x="1751.8" y="776.5" width="17.1" height="17.1" fill="#fff" stroke="#f00" stroke-width="2.9"/>
<rect x="1768.8" y="763.4" width="17.1" height="17.1" fill="#fff" stroke="#f00" stroke-width="2.9"/>
<rect x="1785.7" y="753.2" width="17.1" height="17.1" fill="#fff" stroke="#f00" stroke-width="2.9"/>
<rect x="1802.7" y="743.9" width="17.1" height="17.1" fill="#fff" stroke="#f00" stroke-width="2.9"/>
<rect x="1819.7" y="737.0" width="17.1" height="17.1" fill="#fff" stroke="#f00" stroke-width="2.9"/>
<rect x="1836.6" y="731.2" width="17.1" height="17.1" fill="#fff" stroke="#f00" stroke-width="2.9"/>
<rect x="1853.6" y="726.2" width="17.1" height="17.1" fill="#fff" stroke="#f00" stroke-width="2.9"/>
<rect x="1870.5" y="723.2" width="17.1" height="17.1" fill="#fff" stroke="#f00" stroke-width="2.9"/>
<rect x="1887.5" y="720.9" width="17.1" height="17.1" fill="#fff" stroke="#f00" stroke-width="2.9"/>
<rect x="1904.5" y="720.4" width="17.1" height="17.1" fill="#fff" stroke="#f00" stroke-width="2.9"/>
<rect x="1921.4" y="720.5" width="17.1" height="17.1" fill="#fff" stroke="#f00" stroke-width="2.9"/>
<rect x="1938.4" y="720.6" width="17.1" height="17.1" fill="#fff" stroke="#f00" stroke-width="2.9"/>
<rect x="1955.3" y="721.2" width="17.1" height="17.1" fill="#fff" stroke="#f00" stroke-width="2.9"/>
<rect x="1972.3" y="722.1" width="17.1" height="17.1" fill="#fff" stroke="#f00" stroke-width="2.9"/>
<rect x="1989.3" y="723.1" width="17.1" height="17.1" fill="#fff" stroke="#f00" stroke-width="2.9"/>
<rect x="2006.2" y="724.1" width="17.1" height="17.1" fill="#fff" stroke="#f00" stroke-width="2.9"/>
<rect x="2023.2" y="725.3" width="17.1" height="17.1" fill="#fff" stroke="#f00" stroke-width="2.9"/>
<rect x="2040.1" y="726.8" width="17.1" height="17.1" fill="#fff" stroke="#f00" stroke-width="2.9"/>
<rect x="2057.1" y="728.4" width="17.1" height="17.1" fill="#fff" stroke="#f00" stroke-width="2.9"/>
<rect x="2074.0" y="730.1" width="17.1" height="17.1" fill="#fff" stroke="#f00" stroke-width="2.9"/>
<rect x="2091.0" y="731.8" width="17.1" height="17.1" fill="#fff" stroke="#f00" stroke-width="2.9"/>
<rect x="2108.0" y="733.5" width="17.1" height="17.1" fill="#fff" stroke="#f00" stroke-width="2.9"/>
<rect x="2124.9" y="735.2" width="17.1" height="17.1" fill="#fff" stroke="#f00" stroke-width="2.9"/>
<rect x="2141.9" y="736.9" width="17.1" height="17.1" fill="#fff" stroke="#f00" stroke-width="2.9"/>
<rect x="2158.8" y="738.6" width="17.1" height="17.1" fill="#fff" stroke="#f00" stroke-width="2.9"/>
<rect x="2175.8" y="740.6" width="17.1" height="17.1" fill="#fff" stroke="#f00" stroke-width="2.9"/>
<rect x="2192.8" y="742.6" width="17.1" height="17.1" fill="#fff" stroke="#f00" stroke-width="2.9"/>
<rect x="2209.7" y="744.2" width="17.1" height="17.1" fill="#fff" stroke="#f00" stroke-width="2.9"/>
<rect x="2226.7" y="745.7" width="17.1" height="17.1" fill="#fff" stroke="#f00" stroke-width="2.9"/>
<rect x="2243.6" y="747.0" width="17.1" height="17.1" fill="#fff" stroke="#f00" stroke-width="2.9"/>
<polyline points="1412.7,1619.8 1429.8,1570.9 1446.9,1522.1 1464.1,1471.7 1481.2,1422.3 1498.3,1374.2 1515.5,1324.2 1532.6,1274.1 1549.7,1225.6 1566.9,1180.1 1584.0,1131.5 1601.1,1089.8 1618.3,1043.6 1635.4,1003.5 1652.5,963.7 1669.7,931.3 1686.8,898.2 1703.9,866.5 1721.1,839.7 1738.2,816.1 1755.3,792.8 1772.5,778.3 1789.6,764.1 1806.7,752.4 1823.9,745.4 1841.0,740.8 1858.1,738.8 1875.3,737.4 1892.4,735.8 1909.5,735.1 1926.7,737.2 1943.8,738.2 1960.9,738.9 1978.1,739.5 1995.2,740.2 2012.3,740.8 2029.5,741.4 2046.6,741.9 2063.7,742.5 2080.9,743.1 2098.0,743.9 2115.1,744.7 2132.3,745.7 2149.4,746.6 2166.5,747.6 2183.7,748.6 2200.8,749.4 2217.9,750.3 2235.1,751.4 2252.2,753.1" fill="none" stroke="#00f" stroke-width="5.5" stroke-linejoin="round"/>
<polygon points="1412.68,1608.53 1425.93,1631.03 1399.43,1631.03" fill="#00f"/>
<polygon points="1412.68,1614.44 1420.68,1628.03 1404.68,1628.03" fill="#fff"/>
<polygon points="1429.81,1559.68 1443.06,1582.18 1416.56,1582.18" fill="#00f"/>
<polygon points="1429.81,1565.59 1437.81,1579.18 1421.81,1579.18" fill="#fff"/>
<polygon points="1446.95,1510.82 1460.20,1533.32 1433.70,1533.32" fill="#00f"/>
<polygon points="1446.95,1516.73 1454.95,1530.32 1438.94,1530.32" fill="#fff"/>
<polygon points="1464.08,1460.49 1477.33,1482.99 1450.83,1482.99" fill="#00f"/>
<polygon points="1464.08,1466.40 1472.08,1479.99 1456.08,1479.99" fill="#fff"/>
<polygon points="1481.21,1411.03 1494.46,1433.53 1467.96,1433.53" fill="#00f"/>
<polygon points="1481.21,1416.94 1489.21,1430.53 1473.21,1430.53" fill="#fff"/>
<polygon points="1498.35,1362.98 1511.60,1385.48 1485.10,1385.48" fill="#00f"/>
<polygon points="1498.35,1368.90 1506.35,1382.48 1490.34,1382.48" fill="#fff"/>
<polygon points="1515.48,1312.93 1528.73,1335.43 1502.23,1335.43" fill="#00f"/>
<polygon points="1515.48,1318.84 1523.48,1332.43 1507.48,1332.43" fill="#fff"/>
<polygon points="1532.61,1262.81 1545.86,1285.31 1519.36,1285.31" fill="#00f"/>
<polygon points="1532.61,1268.72 1540.61,1282.31 1524.61,1282.31" fill="#fff"/>
<polygon points="1549.74,1214.35 1562.99,1236.85 1536.49,1236.85" fill="#00f"/>
<polygon points="1549.74,1220.26 1557.75,1233.85 1541.74,1233.85" fill="#fff"/>
<polygon points="1566.88,1168.87 1580.13,1191.37 1553.63,1191.37" fill="#00f"/>
<polygon points="1566.88,1174.78 1574.88,1188.37 1558.88,1188.37" fill="#fff"/>
<polygon points="1584.01,1120.21 1597.26,1142.71 1570.76,1142.71" fill="#00f"/>
<polygon points="1584.01,1126.12 1592.01,1139.71 1576.01,1139.71" fill="#fff"/>
<polygon points="1601.14,1078.59 1614.39,1101.09 1587.89,1101.09" fill="#00f"/>
<polygon points="1601.14,1084.50 1609.15,1098.09 1593.14,1098.09" fill="#fff"/>
<polygon points="1618.28,1032.30 1631.53,1054.80 1605.03,1054.80" fill="#00f"/>
<polygon points="1618.28,1038.21 1626.28,1051.80 1610.27,1051.80" fill="#fff"/>
<polygon points="1635.41,992.22 1648.66,1014.72 1622.16,1014.72" fill="#00f"/>
<polygon points="1635.41,998.13 1643.41,1011.72 1627.41,1011.72" fill="#fff"/>
<polygon points="1652.54,952.45 1665.79,974.95 1639.29,974.95" fill="#00f"/>
<polygon points="1652.54,958.36 1660.54,971.95 1644.54,971.95" fill="#fff"/>
<polygon points="1669.68,920.06 1682.93,942.56 1656.43,942.56" fill="#00f"/>
<polygon points="1669.68,925.97 1677.68,939.56 1661.67,939.56" fill="#fff"/>
<polygon points="1686.81,886.96 1700.06,909.46 1673.56,909.46" fill="#00f"/>
<polygon points="1686.81,892.87 1694.81,906.46 1678.81,906.46" fill="#fff"/>
<polygon points="1703.94,855.25 1717.19,877.75 1690.69,877.75" fill="#00f"/>
<polygon points="1703.94,861.16 1711.94,874.75 1695.94,874.75" fill="#fff"/>
<polygon points="1721.08,828.42 1734.33,850.92 1707.83,850.92" fill="#00f"/>
<polygon points="1721.08,834.33 1729.08,847.92 1713.07,847.92" fill="#fff"/>
<polygon points="1738.21,804.87 1751.46,827.37 1724.96,827.37" fill="#00f"/>
<polygon points="1738.21,810.78 1746.21,824.37 1730.21,824.37" fill="#fff"/>
<polygon points="1755.34,781.52 1768.59,804.02 1742.09,804.02" fill="#00f"/>
<polygon points="1755.34,787.43 1763.34,801.02 1747.34,801.02" fill="#fff"/>
<polygon points="1772.47,767.02 1785.72,789.52 1759.22,789.52" fill="#00f"/>
<polygon points="1772.47,772.93 1780.48,786.52 1764.47,786.52" fill="#fff"/>
<polygon points="1789.61,752.82 1802.86,775.32 1776.36,775.32" fill="#00f"/>
<polygon points="1789.61,758.73 1797.61,772.32 1781.61,772.32" fill="#fff"/>
<polygon points="1806.74,741.19 1819.99,763.69 1793.49,763.69" fill="#00f"/>
<polygon points="1806.74,747.10 1814.74,760.69 1798.74,760.69" fill="#fff"/>
<polygon points="1823.87,734.19 1837.12,756.69 1810.62,756.69" fill="#00f"/>
<polygon points="1823.87,740.10 1831.88,753.69 1815.87,753.69" fill="#fff"/>
<polygon points="1841.01,729.55 1854.26,752.05 1827.76,752.05" fill="#00f"/>
<polygon points="1841.01,735.46 1849.01,749.05 1833.00,749.05" fill="#fff"/>
<polygon points="1858.14,727.54 1871.39,750.04 1844.89,750.04" fill="#00f"/>
<polygon points="1858.14,733.45 1866.14,747.04 1850.14,747.04" fill="#fff"/>
<polygon points="1875.27,726.15 1888.52,748.65 1862.02,748.65" fill="#00f"/>
<polygon points="1875.27,732.07 1883.27,745.65 1867.27,745.65" fill="#fff"/>
<polygon points="1892.41,724.54 1905.66,747.04 1879.16,747.04" fill="#00f"/>
<polygon points="1892.41,730.45 1900.41,744.04 1884.40,744.04" fill="#fff"/>
<polygon points="1909.54,723.84 1922.79,746.34 1896.29,746.34" fill="#00f"/>
<polygon points="1909.54,729.75 1917.54,743.34 1901.54,743.34" fill="#fff"/>
<polygon points="1926.67,725.96 1939.92,748.46 1913.42,748.46" fill="#00f"/>
<polygon points="1926.67,731.87 1934.67,745.46 1918.67,745.46" fill="#fff"/>
<polygon points="1943.80,726.93 1957.05,749.43 1930.55,749.43" fill="#00f"/>
<polygon points="1943.80,732.84 1951.81,746.43 1935.80,746.43" fill="#fff"/>
<polygon points="1960.94,727.66 1974.19,750.16 1947.69,750.16" fill="#00f"/>
<polygon points="1960.94,733.57 1968.94,747.16 1952.94,747.16" fill="#fff"/>
<polygon points="1978.07,728.28 1991.32,750.78 1964.82,750.78" fill="#00f"/>
<polygon points="1978.07,734.19 1986.07,747.78 1970.07,747.78" fill="#fff"/>
<polygon points="1995.20,728.94 2008.45,751.44 1981.95,751.44" fill="#00f"/>
<polygon points="1995.20,734.85 2003.21,748.44 1987.20,748.44" fill="#fff"/>
<polygon points="2012.34,729.56 2025.59,752.06 1999.09,752.06" fill="#00f"/>
<polygon points="2012.34,735.48 2020.34,749.06 2004.34,749.06" fill="#fff"/>
<polygon points="2029.47,730.13 2042.72,752.63 2016.22,752.63" fill="#00f"/>
<polygon points="2029.47,736.04 2037.47,749.63 2021.47,749.63" fill="#fff"/>
<polygon points="2046.60,730.69 2059.85,753.19 2033.35,753.19" fill="#00f"/>
<polygon points="2046.60,736.60 2054.61,750.19 2038.60,750.19" fill="#fff"/>
<polygon points="2063.74,731.26 2076.99,753.76 2050.49,753.76" fill="#00f"/>
<polygon points="2063.74,737.17 2071.74,750.76 2055.73,750.76" fill="#fff"/>
<polygon points="2080.87,731.90 2094.12,754.40 2067.62,754.40" fill="#00f"/>
<polygon points="2080.87,737.81 2088.87,751.40 2072.87,751.40" fill="#fff"/>
<polygon points="2098.00,732.63 2111.25,755.13 2084.75,755.13" fill="#00f"/>
<polygon points="2098.00,738.54 2106.00,752.13 2090.00,752.13" fill="#fff"/>
<polygon points="2115.14,733.47 2128.39,755.97 2101.89,755.97" fill="#00f"/>
<polygon points="2115.14,739.39 2123.14,752.97 2107.13,752.97" fill="#fff"/>
<polygon points="2132.27,734.41 2145.52,756.91 2119.02,756.91" fill="#00f"/>
<polygon points="2132.27,740.32 2140.27,753.91 2124.27,753.91" fill="#fff"/>
<polygon points="2149.40,735.39 2162.65,757.89 2136.15,757.89" fill="#00f"/>
<polygon points="2149.40,741.30 2157.40,754.89 2141.40,754.89" fill="#fff"/>
<polygon points="2166.53,736.38 2179.78,758.88 2153.28,758.88" fill="#00f"/>
<polygon points="2166.53,742.29 2174.54,755.88 2158.53,755.88" fill="#fff"/>
<polygon points="2183.67,737.32 2196.92,759.82 2170.42,759.82" fill="#00f"/>
<polygon points="2183.67,743.24 2191.67,756.82 2175.67,756.82" fill="#fff"/>
<polygon points="2200.80,738.18 2214.05,760.68 2187.55,760.68" fill="#00f"/>
<polygon points="2200.80,744.09 2208.80,757.68 2192.80,757.68" fill="#fff"/>
<polygon points="2217.93,739.07 2231.18,761.57 2204.68,761.57" fill="#00f"/>
<polygon points="2217.93,744.98 2225.94,758.57 2209.93,758.57" fill="#fff"/>
<polygon points="2235.07,740.16 2248.32,762.66 2221.82,762.66" fill="#00f"/>
<polygon points="2235.07,746.07 2243.07,759.66 2227.07,759.66" fill="#fff"/>
<polygon points="2252.20,741.82 2265.45,764.32 2238.95,764.32" fill="#00f"/>
<polygon points="2252.20,747.73 2260.20,761.32 2244.20,761.32" fill="#fff"/>
</g>
<rect x="299" y="497" width="2041" height="4" fill="#000"/>
<rect x="299" y="1644" width="2041" height="4" fill="#000"/>
<rect x="299" y="497" width="4" height="1151" fill="#000"/>
<rect x="2335" y="497" width="5" height="1151" fill="#000"/>
<rect x="1317" y="497" width="5" height="1151" fill="#000"/>
<text x="283.3" y="1666.0" text-anchor="end" font-size="70.5" font-family="Liberation Serif, serif">0</text>
<text x="283.3" y="1502.1" text-anchor="end" font-size="70.5" font-family="Liberation Serif, serif">100</text>
<text x="283.3" y="1338.2" text-anchor="end" font-size="70.5" font-family="Liberation Serif, serif">200</text>
<text x="283.3" y="1174.3" text-anchor="end" font-size="70.5" font-family="Liberation Serif, serif">300</text>
<text x="283.3" y="1010.4" text-anchor="end" font-size="70.5" font-family="Liberation Serif, serif">400</text>
<text x="283.3" y="846.5" text-anchor="end" font-size="70.5" font-family="Liberation Serif, serif">500</text>
<text x="283.3" y="682.6" text-anchor="end" font-size="70.5" font-family="Liberation Serif, serif">600</text>
<text x="283.3" y="518.7" text-anchor="end" font-size="70.5" font-family="Liberation Serif, serif">700</text>
<text x="386.2" y="1717.8" text-anchor="middle" font-size="70.5" font-family="Liberation Serif, serif">0</text>
<text x="555.8" y="1717.8" text-anchor="middle" font-size="70.5" font-family="Liberation Serif, serif">2</text>
<text x="725.4" y="1717.8" text-anchor="middle" font-size="70.5" font-family="Liberation Serif, serif">4</text>
<text x="895.0" y="1717.8" text-anchor="middle" font-size="70.5" font-family="Liberation Serif, serif">6</text>
<text x="1064.6" y="1717.8" text-anchor="middle" font-size="70.5" font-family="Liberation Serif, serif">8</text>
<text x="1234.2" y="1717.8" text-anchor="middle" font-size="70.5" font-family="Liberation Serif, serif">10</text>
<text x="1404.2" y="1717.8" text-anchor="middle" font-size="70.5" font-family="Liberation Serif, serif">0</text>
<text x="1573.8" y="1717.8" text-anchor="middle" font-size="70.5" font-family="Liberation Serif, serif">2</text>
<text x="1743.4" y="1717.8" text-anchor="middle" font-size="70.5" font-family="Liberation Serif, serif">4</text>
<text x="1913.0" y="1717.8" text-anchor="middle" font-size="70.5" font-family="Liberation Serif, serif">6</text>
<text x="2082.6" y="1717.8" text-anchor="middle" font-size="70.5" font-family="Liberation Serif, serif">8</text>
<text x="2252.2" y="1717.8" text-anchor="middle" font-size="70.5" font-family="Liberation Serif, serif">10</text>
<text x="940.5" y="1821.3" font-size="68" font-family="Liberation Serif, serif" textLength="802" lengthAdjust="spacingAndGlyphs">Drain-to-Source Voltage, (V)</text>
<text transform="translate(97.8,1580.6) rotate(-90)" x="0" y="0" font-size="68" font-family="Liberation Serif, serif" textLength="972" lengthAdjust="spacingAndGlyphs">Drain-to-Source Current, (mA/mm)</text>
<rect x="404" y="534" width="333" height="133.60000000000002" fill="#000"/>
<rect x="391.25" y="522.55" width="332.70000000000005" height="131.0" fill="#fff" stroke="#000" stroke-width="2.5"/>
<text y="603.2" font-size="69" fill="#00f" font-family="Liberation Serif, serif"><tspan x="429.5">V</tspan><tspan x="479" font-size="42" dy="23">GS</tspan><tspan x="530.5" dy="-23">=</tspan><tspan x="585.5">2V</tspan></text>
<rect x="1394" y="538.3" width="332.70000000000005" height="132.30000000000007" fill="#000"/>
<rect x="1382.45" y="525.35" width="331.89999999999986" height="132.10000000000002" fill="#fff" stroke="#000" stroke-width="2.5"/>
<text y="605.3" font-size="69" fill="#00f" font-family="Liberation Serif, serif"><tspan x="1419.6">V</tspan><tspan x="1469.1" font-size="42" dy="23">GS</tspan><tspan x="1520.6" dy="-23">=</tspan><tspan x="1575.6">2V</tspan></text>
<rect x="631.8" y="1248" width="640.1000000000001" height="337.29999999999995" fill="#000"/>
<rect x="620.25" y="1235.55" width="637.0" height="335.79999999999995" fill="#fff" stroke="#000" stroke-width="2.5"/>
<line x1="649.70" y1="1291.00" x2="801.20" y2="1291.00" stroke="#000" stroke-width="5.5" stroke-linecap="round"/>
<line x1="649.70" y1="1395.00" x2="801.20" y2="1395.00" stroke="#f00" stroke-width="5.5" stroke-linecap="round"/>
<line x1="649.70" y1="1499.40" x2="801.20" y2="1499.40" stroke="#00f" stroke-width="5.5" stroke-linecap="round"/>
<circle cx="725.1" cy="1291.0" r="11.2" fill="#000"/>
<rect x="715.1" y="1385.0" width="20" height="20" fill="#f00"/>
<polygon points="725.4,1484.0 739.1,1506.8 711.6,1506.8" fill="#00f"/>
<text x="819" y="1315.3" font-size="70" font-family="Liberation Serif, serif" textLength="411" lengthAdjust="spacingAndGlyphs">B.B. Al<tspan font-size="40" dy="24">0.03</tspan><tspan dy="-24">GaN</tspan></text>
<text x="819" y="1419.3" font-size="70" font-family="Liberation Serif, serif" textLength="411" lengthAdjust="spacingAndGlyphs">B.B. Al<tspan font-size="40" dy="24">0.05</tspan><tspan dy="-24">GaN</tspan></text>
<text x="819" y="1523.4" font-size="70" font-family="Liberation Serif, serif" textLength="411" lengthAdjust="spacingAndGlyphs">B.B. Al<tspan font-size="40" dy="24">0.08</tspan><tspan dy="-24">GaN</tspan></text>
<rect x="1761.7" y="1280.9" width="504.29999999999995" height="260.79999999999995" fill="#000"/>
<rect x="1749.45" y="1269.45" width="502.9999999999998" height="259.0999999999999" fill="#fff" stroke="#000" stroke-width="2.5"/>
<line x1="1770.30" y1="1315.30" x2="1921.70" y2="1315.30" stroke="#000" stroke-width="5.5" stroke-linecap="round"/>
<line x1="1770.30" y1="1398.80" x2="1921.70" y2="1398.80" stroke="#f00" stroke-width="5.5" stroke-linecap="round"/>
<line x1="1770.30" y1="1482.90" x2="1921.70" y2="1482.90" stroke="#00f" stroke-width="5.5" stroke-linecap="round"/>
<circle cx="1845.2" cy="1315.3" r="10" fill="#fff" stroke="#000" stroke-width="2.8"/>
<rect x="1836.7" y="1390.2" width="17.1" height="17.1" fill="#fff" stroke="#f00" stroke-width="2.9"/>
<polygon points="1845.20,1467.70 1858.60,1490.70 1831.80,1490.70" fill="#00f"/>
<polygon points="1845.20,1473.66 1853.38,1487.70 1837.02,1487.70" fill="#fff"/>
<text x="1938" y="1338.6" font-size="70" font-family="Liberation Serif, serif" textLength="298" lengthAdjust="spacingAndGlyphs">B.B. 40nm</text>
<text x="1938" y="1422.2" font-size="70" font-family="Liberation Serif, serif" textLength="298" lengthAdjust="spacingAndGlyphs">B.B. 50nm</text>
<text x="1938" y="1504.5" font-size="70" font-family="Liberation Serif, serif" textLength="298" lengthAdjust="spacingAndGlyphs">B.B. 60nm</text>
</svg>
</body></html>
